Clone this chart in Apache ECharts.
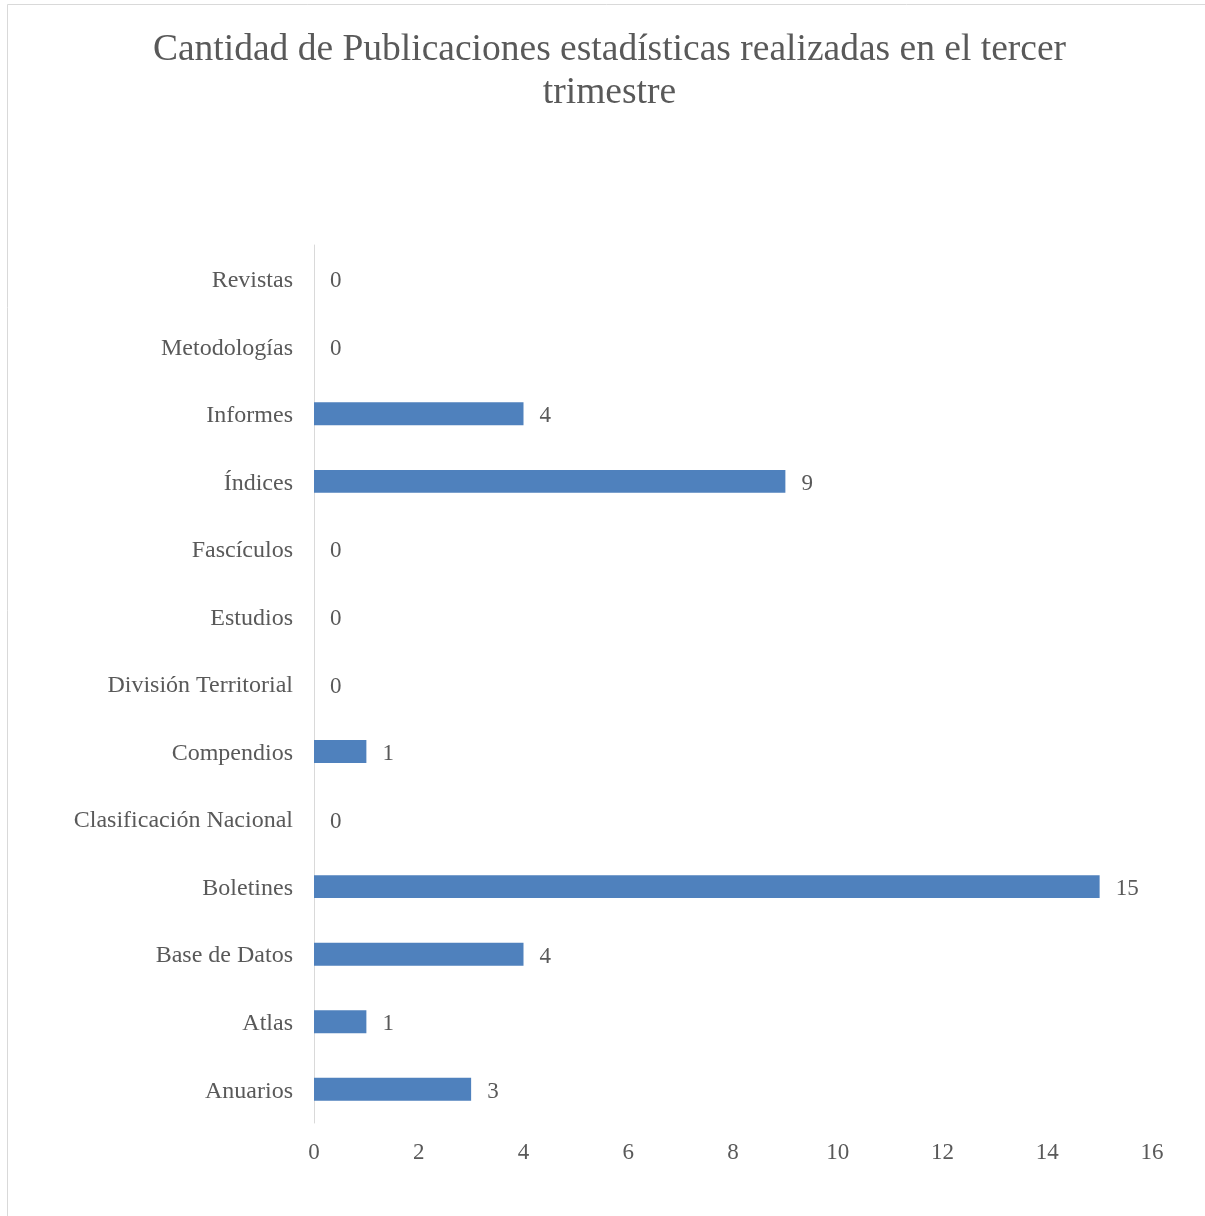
<!DOCTYPE html>
<html><head><meta charset="utf-8">
<script src="https://cdn.jsdelivr.net/npm/echarts@6/dist/echarts.min.js"></script>
<style>html,body{margin:0;padding:0;background:#fff}#c{width:1205px;height:1216px}</style>
</head><body><div id="c"></div>
<script>
const categories = ["Anuarios","Atlas","Base de Datos","Boletines","Clasificación Nacional","Compendios","División Territorial","Estudios","Fascículos","Índices","Informes","Metodologías","Revistas"];
const values = [3,1,4,15,0,1,0,0,0,9,4,0,0];
const xTicks = [0,2,4,6,8,10,12,14,16];
const titleText = "Cantidad de Publicaciones estadísticas realizadas en el tercer\ntrimestre";

const chart = echarts.init(document.getElementById('c'));
const font = '"Liberation Serif","Times New Roman",serif';
chart.setOption({
  backgroundColor: '#fff',
  animation: false,
  graphic: [{type:'rect', shape:{x:7.5,y:4.5,width:1210,height:1220}, style:{fill:'none', stroke:'#D9D9D9', lineWidth:1}}],
  title: {
    text: titleText, left: 604.5, top: 24, textAlign: 'center',
    textStyle: {fontFamily: font, fontSize: 37.5, fontWeight: 'normal', color: '#595959', lineHeight: 43}
  },
  grid: {left: 314, right: 1205-1152, top: 245, bottom: 1216-1123, containLabel: false},
  xAxis: {
    type: 'value', min: xTicks[0], max: xTicks[xTicks.length-1], interval: 2,
    axisLine: {show: false}, axisTick: {show: false}, splitLine: {show: false},
    axisLabel: {fontFamily: font, fontSize: 23, color: '#595959', margin: 18}
  },
  yAxis: {
    type: 'category', data: categories,
    axisLine: {show: true, lineStyle: {color: '#D9D9D9', width: 1}},
    axisTick: {show: false},
    axisLabel: {
      margin: 21, formatter: '{a|{value}}',
      rich: {a: {fontFamily: font, fontSize: 24, color: '#595959', padding: [4,0,0,0]}}
    }
  },
  series: [{
    type: 'bar', data: values, barWidth: '34%',
    itemStyle: {color: '#4F81BD'},
    label: {show: true, position: 'right', distance: 16, offset: [0, 2.5], fontFamily: font, fontSize: 23, color: '#595959'}
  }]
});
</script></body></html>
